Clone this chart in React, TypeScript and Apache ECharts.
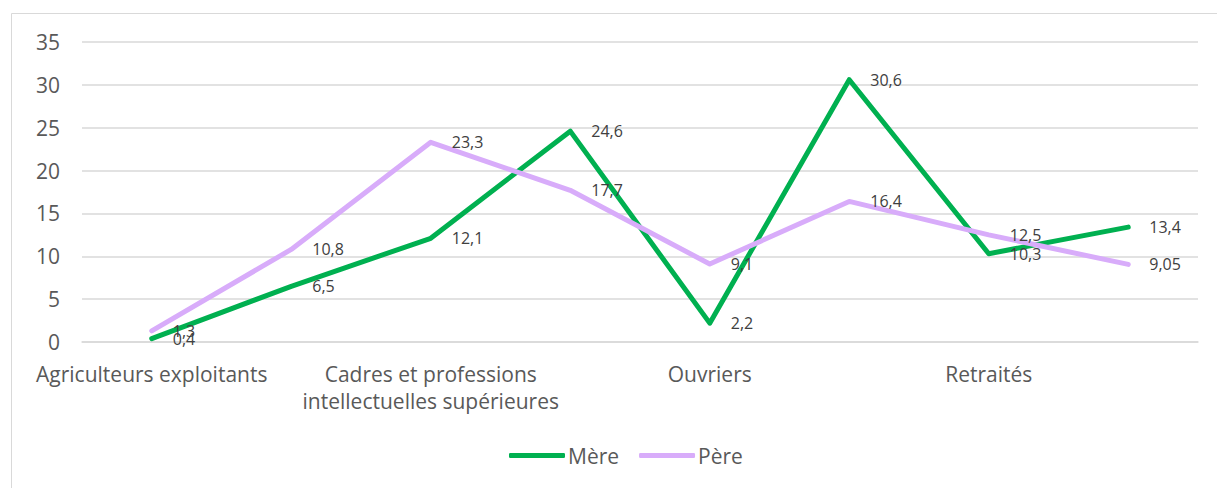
import React, { useEffect, useRef } from "react";
import * as echarts from "echarts";

const categories = [
  "Agriculteurs exploitants",
  "Artisans, commerçants, chefs d'entreprise",
  "Cadres et professions\nintellectuelles supérieures",
  "Employés",
  "Ouvriers",
  "Professions intermédiaires",
  "Retraités",
  "Autres personnes sans activité professionnelle",
];
const mere = [0.4, 6.5, 12.1, 24.6, 2.2, 30.6, 10.3, 13.4];
const pere = [1.3, 10.8, 23.3, 17.7, 9.1, 16.4, 12.5, 9.05];
const yTicks = { min: 0, max: 35, interval: 5 };

const FONT = "'Open Sans', 'Noto Sans', sans-serif";
const fmt = (v: number) => String(v).replace(".", ",");

export default function App() {
  const ref = useRef<HTMLDivElement>(null);
  useEffect(() => {
    if (!ref.current) return;
    const chart = echarts.init(ref.current, undefined, { renderer: "svg" });
    const label = {
      show: true,
      position: "right" as const,
      distance: 20,
      color: "#404040",
      fontSize: 16,
      fontFamily: FONT,
      formatter: (p: any) => fmt(p.value),
    };
    chart.setOption({
      animation: false,
      backgroundColor: "#ffffff",
      textStyle: { fontFamily: FONT },
      graphic: [
        {
          type: "rect",
          shape: { x: 11.5, y: 13.5, width: 1300, height: 600 },
          style: { fill: "none", stroke: "#d9d9d9", lineWidth: 1 },
          silent: true,
        },
      ],
      grid: { left: 82, right: 19, top: 42, bottom: 146 },
      legend: {
        bottom: 17,
        left: 504,
        itemWidth: 56,
        itemHeight: 5,
        itemGap: 20,
        icon: "roundRect",
        textStyle: { color: "#595959", fontSize: 21, fontFamily: FONT, padding: [0, 0, 0, -2] },
        data: ["Mère", "Père"],
      },
      xAxis: {
        type: "category",
        data: categories,
        boundaryGap: true,
        axisLine: { lineStyle: { color: "#d9d9d9", width: 1.5 } },
        axisTick: { show: false },
        axisLabel: {
          interval: 1,
          color: "#595959",
          fontSize: 21,
          fontFamily: FONT,
          margin: 18,
          lineHeight: 27,
        },
      },
      yAxis: {
        type: "value",
        min: yTicks.min,
        max: yTicks.max,
        interval: yTicks.interval,
        axisLine: { show: false },
        axisTick: { show: false },
        splitLine: { lineStyle: { color: "#d9d9d9", width: 1.5 } },
        axisLabel: { color: "#595959", fontSize: 21, fontFamily: FONT, margin: 22 },
      },
      series: [
        {
          name: "Mère",
          type: "line",
          data: mere,
          symbol: "circle",
          symbolSize: 2,
          color: "#00B050",
          lineStyle: { width: 5, color: "#00B050", cap: "round", join: "round" },
          itemStyle: { color: "#00B050" },
          label,
        },
        {
          name: "Père",
          type: "line",
          data: pere,
          symbol: "circle",
          symbolSize: 2,
          color: "#D8ACFA",
          lineStyle: { width: 5, color: "#D8ACFA", cap: "round", join: "round" },
          itemStyle: { color: "#D8ACFA" },
          label,
        },
      ],
    });
    return () => chart.dispose();
  }, []);
  return (
    <div
      ref={ref}
      style={{ position: "fixed", left: 0, top: 0, width: 1217, height: 488, background: "#fff" }}
    />
  );
}
